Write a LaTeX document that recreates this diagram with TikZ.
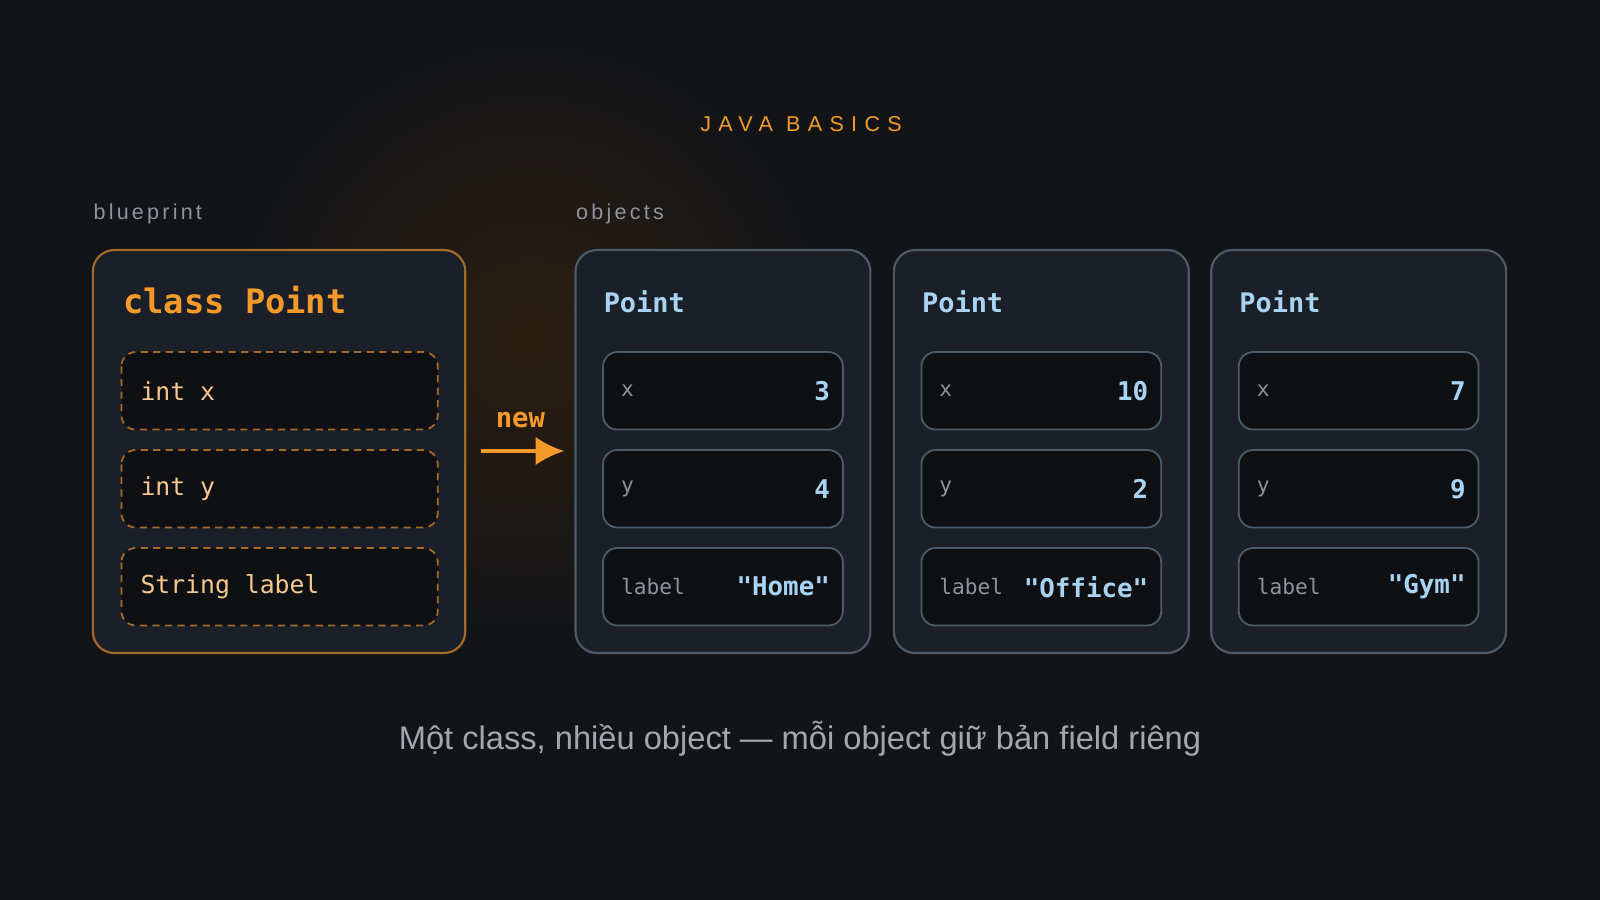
\documentclass[tikz,border=0pt]{standalone}
\usepackage{fontspec}
\setmainfont{Liberation Sans}
\setmonofont{DejaVu Sans Mono}
\usetikzlibrary{positioning, arrows.meta}
\definecolor{bg}{HTML}{121418}
\definecolor{glow}{HTML}{2B1E10}
\definecolor{card}{HTML}{1B1F27}
\definecolor{slot}{HTML}{0E1014}
\definecolor{orng}{HTML}{F39A2B}
\definecolor{brwn}{HTML}{A36A2A}
\definecolor{lorng}{HTML}{F6C88E}
\definecolor{edge}{HTML}{4C5B69}
\definecolor{sky}{HTML}{A9D3F2}
\definecolor{dim}{HTML}{8E949C}
\definecolor{capc}{HTML}{A4A8AE}
\tikzset{
  every node/.style={inner sep=0pt},
  card/.style={draw=edge, line width=0.6pt, fill=card, rounded corners=6pt},
  blue card/.style={card},
  class card/.style={card, draw=brwn},
  slot/.style={draw=edge, line width=0.5pt, fill=slot, rounded corners=4pt},
  field slot/.style={slot, draw=brwn, dash pattern=on 2pt off 1.5pt},
  tag/.style={text=dim, font=\fontsize{6}{7}\selectfont\addfontfeature{LetterSpace=15}},
  fval/.style={text=sky, font=\ttfamily\bfseries\fontsize{7.2}{8}\selectfont, anchor=east},
  fname/.style={text=dim, font=\ttfamily\fontsize{5.9}{7}\selectfont, anchor=west},
  fdecl/.style={text=lorng, font=\ttfamily\fontsize{6.9}{8}\selectfont, anchor=west}
}
\begin{document}
\begin{tikzpicture}[x=0.01cm, y=-0.01cm]
\fill[bg] (0,0) rectangle (1568,882);
\useasboundingbox (0,0) rectangle (1568,882);
\shade[inner color=glow, outer color=bg] (520,330) circle (300);

\node (title) at (785,122) {\color{orng}\fontsize{6}{7}\selectfont\addfontfeature{LetterSpace=34}JAVA BASICS};
\node[tag, anchor=west] (bp) at (91,210) {blueprint};
\node[tag, anchor=west] (objs) at (564,210) {objects};

% blueprint
\draw[class card] (91,245) rectangle (456,640);
\node[anchor=west, text=orng, font=\ttfamily\bfseries\fontsize{9.4}{11}\selectfont] (cls) at (120,294) {class Point};
\foreach \y/\t [count=\i] in {345/int x, 441/int y, 537/String label} {
  \draw[field slot] (119,\y) rectangle (429,\y+76);
  \node[fdecl] (f\i) at (137,\y+38) {\t};
}

% new arrow
\coordinate (nl) at (471,442);
\coordinate (nr) at (553,442);
\draw[orng, line width=1.1pt, -{Latex[length=8pt,width=8pt]}] (nl) -- (nr);
\node[text=orng, font=\ttfamily\bfseries\fontsize{7.6}{9}\selectfont] (new) at (510,412) {new};

% objects
\foreach \x/\a/\b/\c [count=\k] in {564/3/4/"Home", 876/10/2/"Office", 1187/7/9/"Gym"} {
  \draw[blue card] (\x,245) rectangle (\x+289,640);
  \node[anchor=west, text=sky, font=\ttfamily\bfseries\fontsize{7.5}{9}\selectfont] (p\k) at (\x+27,296) {Point};
  \foreach \y/\n/\v [count=\j] in {345/x/\a, 441/y/\b, 537/label/\c} {
    \draw[slot] (\x+27,\y) rectangle (\x+262,\y+76);
    \node[fname] (n\k\j) at (\x+44,\y+38) {\n};
    \node[fval] (v\k\j) at (\x+250,\y+38) {\v};
  }
}

\node[text=capc, font=\fontsize{9.1}{11}\selectfont] (cap) at (784,724) {Một class, nhiều object — mỗi object giữ bản field riêng};
\end{tikzpicture}
\end{document}
